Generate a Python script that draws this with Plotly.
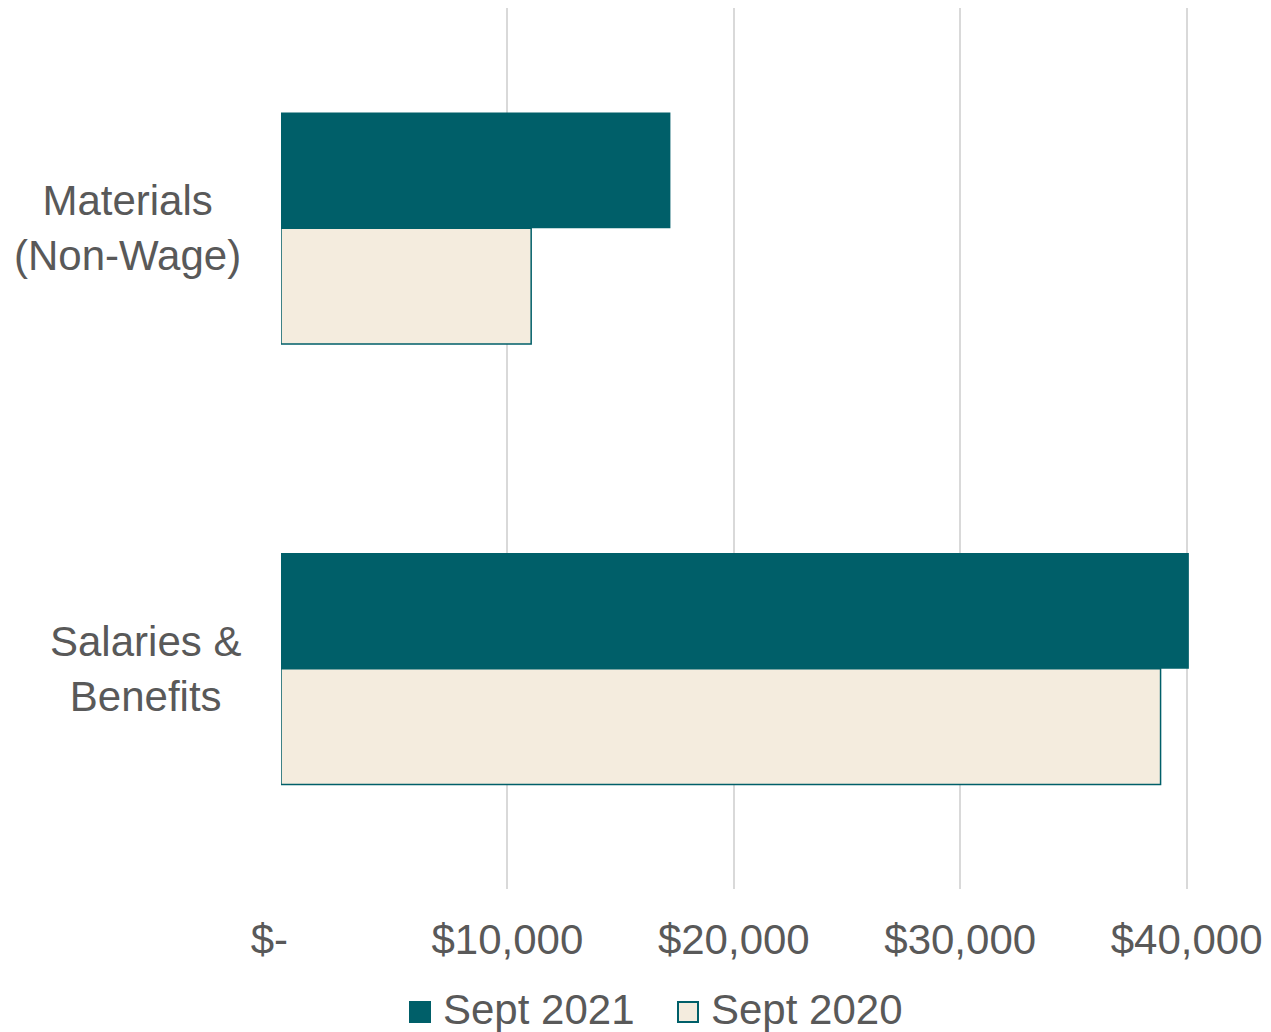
import plotly.graph_objects as go

categories = ["Materials<br>(Non-Wage)", "Salaries &<br>Benefits"]
sept_2021 = [17200, 40100]
sept_2020 = [11050, 38850]
series_names = ["Sept 2021", "Sept 2020"]
tick_vals = [0, 10000, 20000, 30000, 40000]
tick_text = ["$-\u00a0\u00a0", "$10,000", "$20,000", "$30,000", "$40,000"]

TEAL = "#005F69"
CREAM = "#F4ECDE"
GRAY = "#595959"
FONT = "Liberation Sans, Arial, sans-serif"

# plot area in pixels (for converting legend placement to paper coords)
L, R, T, B = 281, 1190, 8, 889
W, H = R - L, B - T


def px(x):
    return (x - L) / W


def py(y):
    return (B - y) / H


fig = go.Figure()
fig.add_trace(go.Bar(
    y=categories, x=sept_2020, name=series_names[1], orientation="h",
    marker=dict(color=CREAM, line=dict(color=TEAL, width=1.5)),
    showlegend=False,
))
fig.add_trace(go.Bar(
    y=categories, x=sept_2021, name=series_names[0], orientation="h",
    marker=dict(color=TEAL, line=dict(width=0)),
    showlegend=False,
))

for c in categories:
    fig.add_annotation(
        x=0, xref="paper", y=c, yref="y", text=c, showarrow=False,
        xanchor="right", yanchor="middle", xshift=-38, align="center",
        font=dict(family=FONT, size=42, color=GRAY),
    )

# manual legend (larger swatches like the original)
legend_items = [
    (series_names[0], 409, TEAL, 0),
    (series_names[1], 677, CREAM, 2),
]
for name, x0, fill, lw in legend_items:
    fig.add_shape(
        type="rect", xref="paper", yref="paper",
        x0=px(x0 + lw / 2), x1=px(x0 + 22 - lw / 2),
        y0=py(1023 - lw / 2), y1=py(1001 + lw / 2),
        fillcolor=fill, line=dict(color=TEAL, width=lw) if lw else dict(width=0),
    )
    fig.add_annotation(
        x=px(x0 + 32), xref="paper", y=py(1009), yref="paper",
        text=name, showarrow=False, xanchor="left", yanchor="middle",
        font=dict(family=FONT, size=42, color=GRAY),
    )

fig.update_layout(
    width=1271, height=1032,
    margin=dict(l=L, r=1271 - R, t=T, b=1032 - B, autoexpand=False),
    paper_bgcolor="white", plot_bgcolor="white",
    barmode="group", bargap=0.475, bargroupgap=0,
    font=dict(family=FONT, size=42, color=GRAY),
    xaxis=dict(
        range=[0, 40150], tickvals=tick_vals, ticktext=tick_text,
        showgrid=True, gridcolor="#D9D9D9", gridwidth=1.5,
        zeroline=False, showline=False, ticks="",
        ticklabelstandoff=22,
        tickfont=dict(family=FONT, size=42, color=GRAY),
    ),
    yaxis=dict(
        categoryorder="array", categoryarray=categories[::-1],
        showticklabels=False, showgrid=False, zeroline=False, showline=False,
    ),
    showlegend=False,
)

fig.write_html("out.html")
